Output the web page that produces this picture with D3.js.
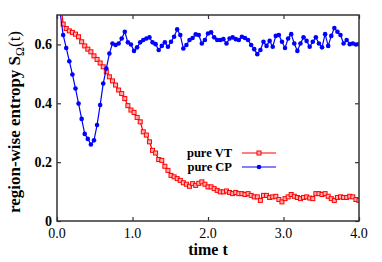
<!DOCTYPE html>
<html>
<head>
<meta charset="utf-8">
<script src="https://cdn.jsdelivr.net/npm/d3@7/dist/d3.min.js"></script>
<style>
  body { margin: 0; background: #fff; }
  svg text { font-family: "Liberation Serif", "Times New Roman", serif; }
</style>
</head>
<body>
<div class="container"></div>
<script>
// region-wise entropy vs time, two runs
var t_end = 4.0;
var x_ticks = [0, 1, 2, 3, 4];
var x_tick_labels = ["0.0", "1.0", "2.0", "3.0", "4.0"];
var y_ticks = [0, 0.2, 0.4, 0.6];
var y_tick_labels = ["0", "0.2", "0.4", "0.6"];
var series_names = ["pure VT", "pure CP"];

var vt_values = [
    0.95, 0.76, 0.669, 0.654, 0.646, 0.641, 0.635, 0.626, 0.609, 0.595,
    0.584, 0.575, 0.561, 0.549, 0.537, 0.524, 0.507, 0.490, 0.476, 0.462,
    0.445, 0.433, 0.416, 0.392, 0.377, 0.369, 0.352, 0.337, 0.303, 0.292,
    0.269, 0.240, 0.231, 0.209, 0.206, 0.186, 0.172, 0.155, 0.150, 0.144,
    0.138, 0.130, 0.125, 0.118, 0.127, 0.121, 0.128, 0.133, 0.125, 0.116,
    0.116, 0.110, 0.104, 0.099, 0.099, 0.102, 0.097, 0.093, 0.097, 0.093,
    0.093, 0.090, 0.093, 0.087, 0.082, 0.082, 0.070, 0.087, 0.087, 0.080,
    0.082, 0.084, 0.073, 0.065, 0.076, 0.082, 0.090, 0.084, 0.080, 0.076,
    0.080, 0.082, 0.078, 0.076, 0.093, 0.093, 0.090, 0.093, 0.084, 0.076,
    0.070, 0.080, 0.082, 0.080, 0.080, 0.084, 0.082, 0.073, 0.070
];

var cp_values = [
    0.80, 0.71, 0.632, 0.588, 0.543, 0.498, 0.450, 0.399, 0.347, 0.296,
    0.279, 0.260, 0.274, 0.326, 0.394, 0.467, 0.518, 0.569, 0.603, 0.598,
    0.603, 0.620, 0.643, 0.607, 0.600, 0.578, 0.590, 0.607, 0.615, 0.620,
    0.624, 0.607, 0.601, 0.581, 0.595, 0.607, 0.592, 0.609, 0.626, 0.651,
    0.632, 0.586, 0.598, 0.615, 0.622, 0.634, 0.632, 0.603, 0.615, 0.637,
    0.641, 0.624, 0.615, 0.615, 0.618, 0.603, 0.620, 0.624, 0.618, 0.615,
    0.626, 0.622, 0.615, 0.598, 0.584, 0.567, 0.581, 0.609, 0.595, 0.612,
    0.592, 0.629, 0.632, 0.609, 0.588, 0.620, 0.635, 0.603, 0.578, 0.603,
    0.624, 0.612, 0.592, 0.609, 0.624, 0.603, 0.590, 0.635, 0.595, 0.629,
    0.656, 0.643, 0.632, 0.603, 0.615, 0.601, 0.603, 0.600, 0.601
];

var width = 382;
var height = 262;
var margin = {left: 57, right: 23, top: 15, bottom: 41};
var plot_w = width - margin.left - margin.right;
var plot_h = height - margin.top - margin.bottom;
var frame_color = "#333";

function init() {
    var svg = d3.select(".container").append("svg")
        .attr("width", width)
        .attr("height", height);

    var x = d3.scaleLinear().domain([0, t_end]).range([0, plot_w]);
    var y = d3.scaleLinear().domain([0, 0.7]).range([plot_h, 0]);

    // the samples are evenly spaced in time over [0, t_end]
    var step = t_end / (vt_values.length - 1);

    var g = svg.append("g")
        .attr("transform", "translate(" + margin.left + "," + margin.top + ")");

    g.append("clipPath").attr("id", "clip")
        .append("rect").attr("width", plot_w).attr("height", plot_h);

    // inward ticks on all four sides
    var tick_len = 4;
    g.append("g")
        .attr("transform", "translate(0," + plot_h + ")")
        .call(d3.axisBottom(x).tickValues(x_ticks).tickSize(-tick_len).tickFormat(""))
        .call(styleAxis);
    g.append("g")
        .call(d3.axisTop(x).tickValues(x_ticks).tickSize(-tick_len).tickFormat(""))
        .call(styleAxis);
    g.append("g")
        .call(d3.axisLeft(y).tickValues(y_ticks).tickSize(-tick_len).tickFormat(""))
        .call(styleAxis);
    g.append("g")
        .attr("transform", "translate(" + plot_w + ",0)")
        .call(d3.axisRight(y).tickValues(y_ticks).tickSize(-tick_len).tickFormat(""))
        .call(styleAxis);

    // tick labels
    g.selectAll(".xlab").data(x_ticks).enter().append("text")
        .attr("x", function(d) { return x(d); })
        .attr("y", plot_h + 17)
        .attr("text-anchor", "middle")
        .style("font-size", "14px")
        .text(function(d, i) { return x_tick_labels[i]; });

    g.selectAll(".ylab").data(y_ticks).enter().append("text")
        .attr("x", -5)
        .attr("y", function(d) { return y(d) + 4.5; })
        .attr("text-anchor", "end")
        .style("font-size", "14px")
        .style("font-weight", "bold")
        .text(function(d, i) { return y_tick_labels[i]; });

    // axis titles
    svg.append("text")
        .attr("x", margin.left + plot_w / 2)
        .attr("y", 255)
        .attr("text-anchor", "middle")
        .style("font-size", "16px")
        .style("font-weight", "bold")
        .text("time t");

    var yt = svg.append("text")
        .attr("transform", "translate(20," + (margin.top + plot_h / 2 + 4) + ") rotate(-90)")
        .attr("text-anchor", "middle")
        .style("font-size", "17px")
        .style("font-weight", "bold");
    yt.append("tspan").text("region-wise entropy S");
    yt.append("tspan").attr("dy", 4).style("font-size", "12px").style("font-weight", "normal").text("Ω");
    yt.append("tspan").attr("dy", -4).style("font-weight", "normal").text("(t)");

    var plot = g.append("g").attr("clip-path", "url(#clip)");

    var line = d3.line()
        .x(function(d, i) { return x(i * step); })
        .y(function(d) { return y(d); });

    // pure VT: red, open squares
    plot.append("path").datum(vt_values)
        .attr("d", line)
        .attr("fill", "none")
        .attr("stroke", "red")
        .attr("stroke-width", 1.2);
    plot.selectAll(".vt").data(vt_values).enter().append("rect")
        .attr("x", function(d, i) { return x(i * step) - 2; })
        .attr("y", function(d) { return y(d) - 2; })
        .attr("width", 4).attr("height", 4)
        .attr("fill", "#ffb0b0")
        .attr("stroke", "red")
        .attr("stroke-width", 1);

    // pure CP: blue, filled circles
    plot.append("path").datum(cp_values)
        .attr("d", line)
        .attr("fill", "none")
        .attr("stroke", "blue")
        .attr("stroke-width", 1.2);
    plot.selectAll(".cp").data(cp_values).enter().append("circle")
        .attr("cx", function(d, i) { return x(i * step); })
        .attr("cy", function(d) { return y(d); })
        .attr("r", 2.3)
        .attr("fill", "blue");

    // frame
    g.append("rect")
        .attr("width", plot_w).attr("height", plot_h)
        .attr("fill", "none")
        .attr("stroke", frame_color)
        .attr("stroke-width", 1.5);

    // legend
    var legend = g.append("g").attr("transform", "translate(175,138)");
    var rows = legend.selectAll("g").data(series_names).enter().append("g")
        .attr("transform", function(d, i) { return "translate(0," + (i * 14) + ")"; });
    rows.append("text")
        .attr("x", 0).attr("y", 4)
        .attr("text-anchor", "end")
        .style("font-size", "12.5px")
        .style("font-weight", "bold")
        .text(function(d) { return d; });
    rows.append("line")
        .attr("x1", 10).attr("x2", 44)
        .attr("stroke", function(d, i) { return i == 0 ? "red" : "blue"; })
        .attr("stroke-width", 1.2);
    rows.filter(function(d, i) { return i == 0; }).append("rect")
        .attr("x", 25).attr("y", -2).attr("width", 4).attr("height", 4)
        .attr("fill", "#ffb0b0").attr("stroke", "red");
    rows.filter(function(d, i) { return i == 1; }).append("circle")
        .attr("cx", 27).attr("r", 2.3).attr("fill", "blue");
}

function styleAxis(sel) {
    sel.select(".domain").remove();
    sel.selectAll("line").attr("stroke", frame_color).attr("stroke-width", 1.2);
}

init();
</script>
</body>
</html>
